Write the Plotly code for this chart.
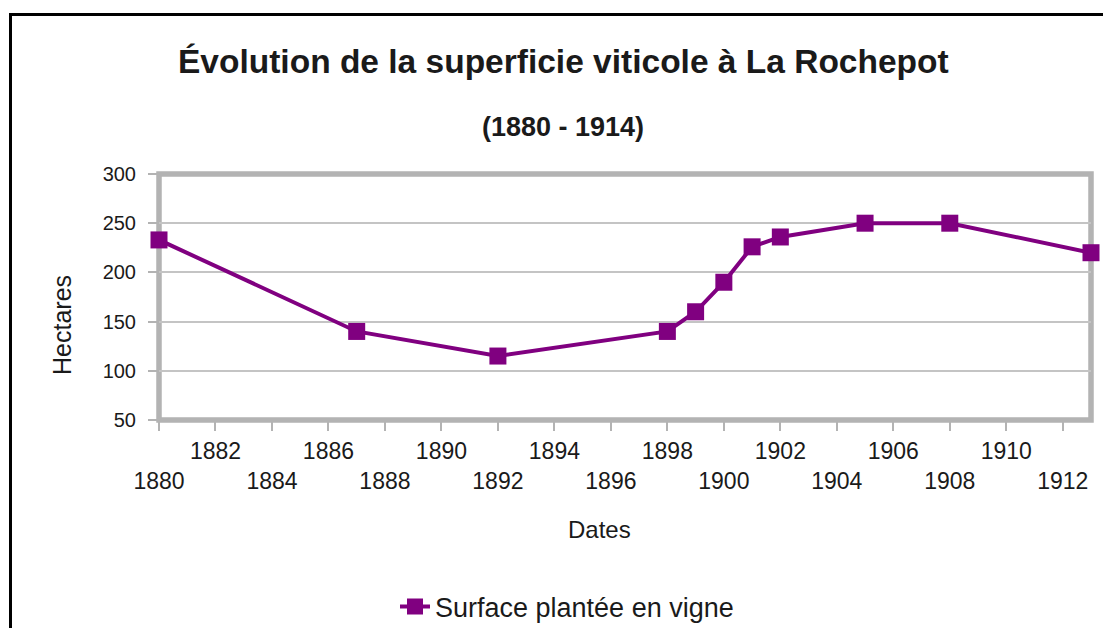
import plotly.graph_objects as go

# ---- data ----
years = [1880, 1887, 1892, 1898, 1899, 1900, 1901, 1902, 1905, 1908, 1913]
hectares = [233, 140, 115, 140, 160, 190, 226, 236, 250, 250, 220]
series_name = "Surface plantée en vigne"
tick_years = list(range(1880, 1913, 2))
tick_labels = [("<br>%d" % y) if (y - 1880) % 4 == 0 else str(y) for y in tick_years]
title_text = "Évolution de la superficie viticole à La Rochepot"
subtitle_text = "(1880 - 1914)"
y_title = "Hectares"
x_title = "Dates"

# ---- layout geometry (page body margin removed via post_script) ----
W, H = 1103, 628
ML, MR, MT, MB = 159, 12, 174, 208
PW = W - ML - MR
PH = H - MT - MB


def px_x(x):
    return (x - ML) / PW


def px_y(y):
    return (H - MB - y) / PH


FONT = "Liberation Sans, Arial, sans-serif"
PURPLE = "#800080"
GRAY = "#b3b3b3"
TXT = "#1a1a1a"

fig = go.Figure()
fig.add_trace(go.Scatter(
    x=years, y=hectares, name=series_name, mode="lines+markers",
    line=dict(color=PURPLE, width=4),
    marker=dict(symbol="square", size=17, color=PURPLE),
    cliponaxis=False,
))

fig.update_layout(
    width=W, height=H,
    margin=dict(l=ML, r=MR, t=MT, b=MB, autoexpand=False),
    paper_bgcolor="white", plot_bgcolor="white",
    font=dict(family=FONT, color=TXT),
    showlegend=True,
    legend=dict(orientation="h", x=px_x(395), xanchor="left", y=px_y(607), yanchor="middle",
                font=dict(size=27, color=TXT, family=FONT), bgcolor="rgba(0,0,0,0)"),
    xaxis=dict(range=[1880, 1913], tickmode="array", tickvals=tick_years, ticktext=tick_labels,
               showgrid=False, zeroline=False, showline=False,
               ticks="outside", ticklen=10, tickwidth=2, tickcolor=GRAY,
               tickfont=dict(size=23, color=TXT, family=FONT)),
    yaxis=dict(range=[50, 300], dtick=50, showgrid=True, gridcolor="#c4c4c4", gridwidth=1.5,
               zeroline=False, showline=False,
               ticks="outside", ticklen=10, tickwidth=2, tickcolor=GRAY,
               ticklabelstandoff=8,
               tickfont=dict(size=20, color=TXT, family=FONT)),
    shapes=[
        dict(type="rect", xref="paper", yref="paper", x0=0, x1=1, y0=0, y1=1,
             line=dict(color=GRAY, width=5.5), layer="below"),
        # outer black frame: only left and top edges are visible in the picture
        dict(type="line", xref="paper", yref="paper",
             x0=px_x(10.5), x1=px_x(10.5), y0=px_y(13), y1=px_y(640),
             line=dict(color="black", width=3)),
        dict(type="line", xref="paper", yref="paper",
             x0=px_x(9), x1=px_x(1120), y0=px_y(14.5), y1=px_y(14.5),
             line=dict(color="black", width=3)),
    ],
    annotations=[
        dict(text="<b>%s</b>" % title_text, xref="paper", yref="paper",
             x=px_x(563), y=px_y(62), xanchor="center", yanchor="middle",
             showarrow=False, font=dict(size=33.5, color=TXT, family=FONT)),
        dict(text="<b>%s</b>" % subtitle_text, xref="paper", yref="paper",
             x=px_x(563), y=px_y(127), xanchor="center", yanchor="middle",
             showarrow=False, font=dict(size=27, color=TXT, family=FONT)),
        dict(text=y_title, xref="paper", yref="paper", textangle=-90,
             x=px_x(62), y=px_y(325), xanchor="center", yanchor="middle",
             showarrow=False, font=dict(size=25, color=TXT, family=FONT)),
        dict(text=x_title, xref="paper", yref="paper",
             x=px_x(599), y=px_y(529), xanchor="center", yanchor="middle",
             showarrow=False, font=dict(size=24, color=TXT, family=FONT)),
    ],
)

fig.write_html(
    "out.html",
    config={"displayModeBar": False},
    post_script="document.body.style.margin='0';document.body.style.overflow='hidden';",
)
